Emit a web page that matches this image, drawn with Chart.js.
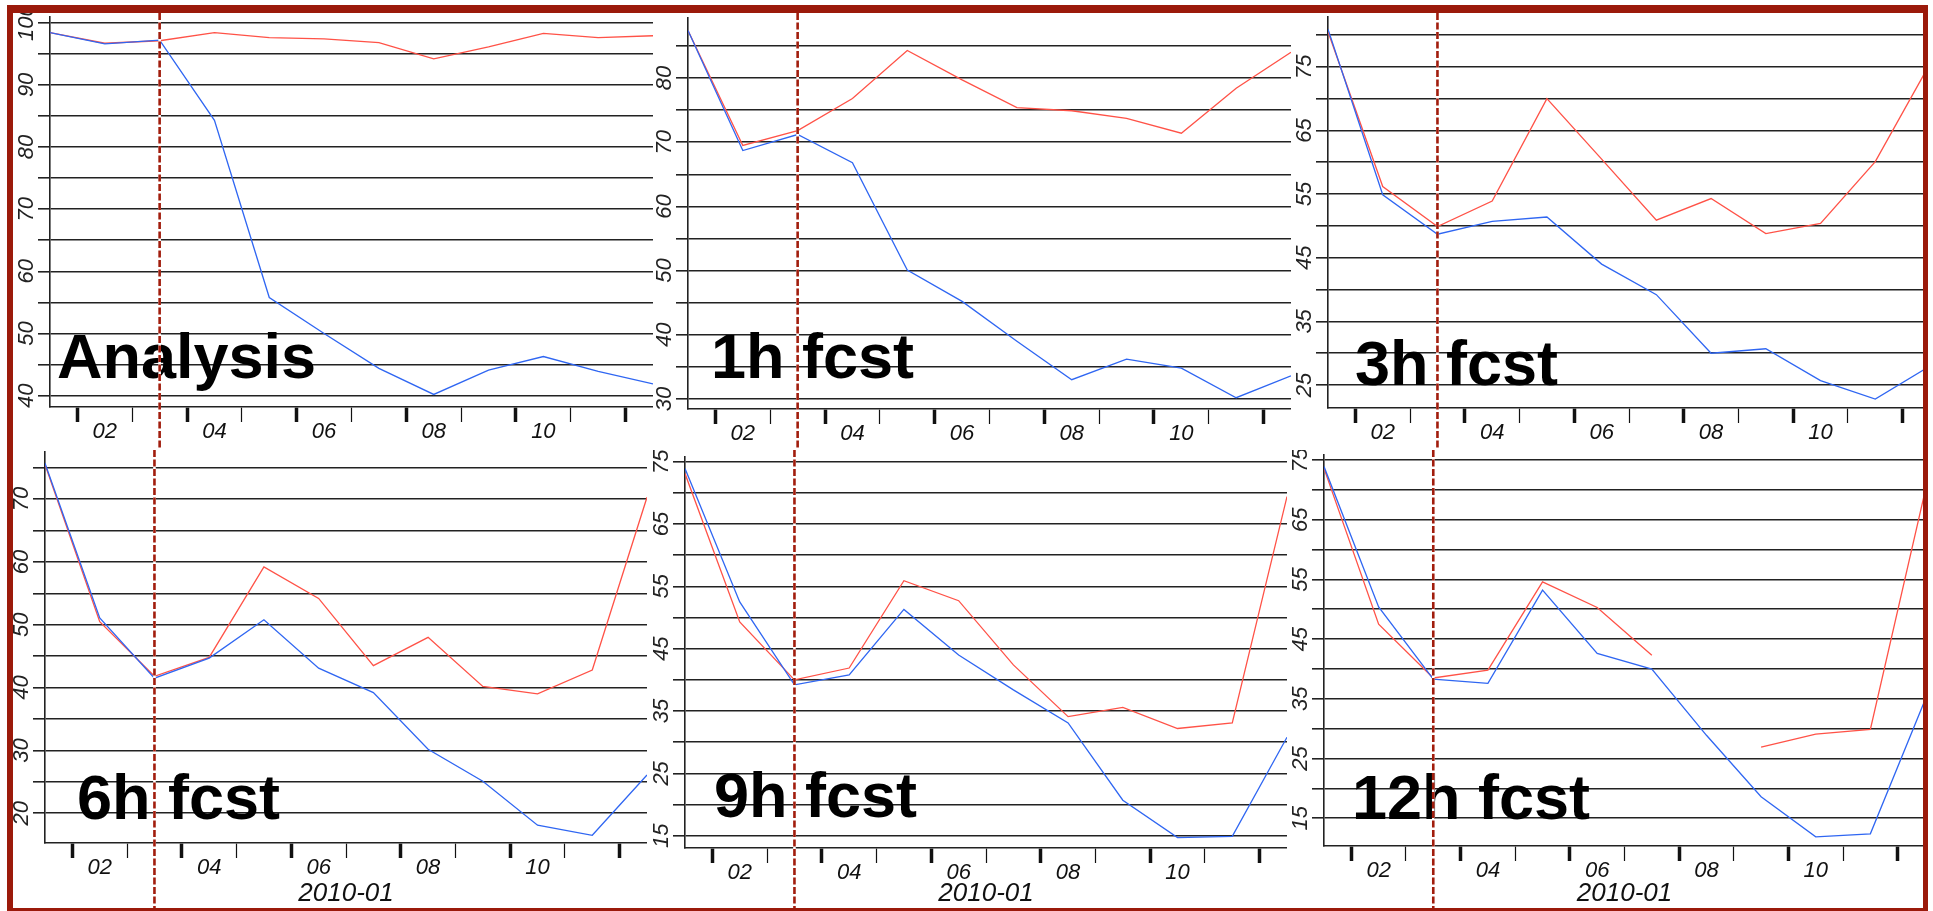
<!DOCTYPE html>
<html>
<head>
<meta charset="utf-8">
<script src="https://cdn.jsdelivr.net/npm/chart.js@4.4.1/dist/chart.umd.min.js"></script>
<style>
  html, body { margin: 0; padding: 0; background: #fff; }
  #page { position: relative; width: 1928px; height: 911px; overflow: hidden; background: #fff; }
  #page canvas { position: absolute; }
  .edge { position: absolute; background: #9b1a0b; z-index: 5; }
</style>
</head>
<body>
<div id="page">
  <div class="edge" style="left:7px;top:5px;width:1921px;height:8px"></div>
  <div class="edge" style="left:7px;top:5px;width:6px;height:906px"></div>
  <div class="edge" style="left:1923px;top:5px;width:5px;height:906px"></div>
  <div class="edge" style="left:7px;top:908px;width:1921px;height:3px"></div>
</div>
<script>
// x = days since 2010-01-01 00:00, one value per day (noon)
var days = [0.5, 1.5, 2.5, 3.5, 4.5, 5.5, 6.5, 7.5, 8.5, 9.5, 10.5, 11.5];
var dayBreaks = [1, 2, 3, 4, 5, 6, 7, 8, 9, 10, 11];
var xLabelDays = [1.5, 3.5, 5.5, 7.5, 9.5];
var xLabels = ['02', '04', '06', '08', '10'];
var xTitle = '2010-01';
var markDay = 2.5;

var titles = ['Analysis', '1h fcst', '3h fcst', '6h fcst', '9h fcst', '12h fcst'];

var analysisBlue = [98.4, 96.6, 97.2, 84.3, 55.8, 50.0, 44.4, 40.2, 44.1, 46.3, 43.9, 41.9];
var analysisRed  = [98.4, 96.7, 97.1, 98.4, 97.6, 97.4, 96.8, 94.2, 96.1, 98.3, 97.6, 97.9];
var fc1Blue = [87.4, 68.7, 71.2, 66.8, 50.1, 45.2, 39.0, 33.0, 36.2, 34.8, 30.2, 33.6];
var fc1Red  = [87.4, 69.5, 71.8, 76.8, 84.3, 79.7, 75.4, 74.9, 73.7, 71.4, 78.4, 84.0];
var fc3Blue = [80.9, 54.9, 48.7, 50.7, 51.4, 44.0, 39.2, 30.0, 30.7, 25.7, 22.8, 28.0];
var fc3Red  = [80.5, 56.2, 49.9, 53.9, 70.0, 60.5, 50.9, 54.3, 48.8, 50.4, 60.1, 75.5];
var fc6Blue = [75.7, 51.1, 41.5, 44.7, 50.8, 43.1, 39.2, 30.2, 25.1, 18.1, 16.5, 26.1];
var fc6Red  = [75.5, 50.5, 41.8, 44.8, 59.2, 54.2, 43.5, 48.0, 40.2, 39.0, 42.8, 70.3];
var fc9Blue = [73.9, 52.5, 39.2, 40.8, 51.3, 44.0, 38.4, 33.1, 20.7, 14.7, 14.9, 30.8];
var fc9Red  = [73.1, 49.3, 40.0, 41.9, 55.9, 52.7, 42.4, 34.1, 35.6, 32.2, 33.1, 69.4];
var fc12Blue = [73.9, 50.4, 38.3, 37.6, 53.2, 42.6, 40.0, 28.9, 18.6, 11.9, 12.4, 34.8];
var fc12Red  = [73.6, 47.5, 38.5, 39.8, 54.6, 50.3, 42.3, null, 26.9, 29.1, 29.9, 69.7];

var analysisGrid = [40, 45, 50, 55, 60, 65, 70, 75, 80, 85, 90, 95, 100];
var analysisTicks = [40, 50, 60, 70, 80, 90, 100];
var fc1Grid = [30, 35, 40, 45, 50, 55, 60, 65, 70, 75, 80, 85];
var fc1Ticks = [30, 40, 50, 60, 70, 80];
var fc3Grid = [25, 30, 35, 40, 45, 50, 55, 60, 65, 70, 75, 80];
var fc3Ticks = [25, 35, 45, 55, 65, 75];
var fc6Grid = [20, 25, 30, 35, 40, 45, 50, 55, 60, 65, 70, 75];
var fc6Ticks = [20, 30, 40, 50, 60, 70];
var fc9Grid = [15, 20, 25, 30, 35, 40, 45, 50, 55, 60, 65, 70, 75];
var fc9Ticks = [15, 25, 35, 45, 55, 65, 75];
var fc12Grid = [15, 20, 25, 30, 35, 40, 45, 50, 55, 60, 65, 70, 75];
var fc12Ticks = [15, 25, 35, 45, 55, 65, 75];

var BLUE = '#2f66f2';
var RED = '#ff5247';
var INK = '#222';
var FONT = '"Liberation Sans", Arial, Helvetica, sans-serif';
var YAXIS_W = 50;

Chart.defaults.font.family = FONT;

// plot boxes (page pixels)
var panels = [
  { title: titles[0], blue: analysisBlue, red: analysisRed, grid: analysisGrid, ticks: analysisTicks, yMin: 38.18, yMax: 100.92, row: 0, left: 50, right: 653, top: 17, bottom: 407, dx: 7, dy: 29 },
  { title: titles[1], blue: fc1Blue, red: fc1Red, grid: fc1Grid, ticks: fc1Ticks, yMin: 28.44, yMax: 89.35, row: 0, left: 688, right: 1291, top: 18, bottom: 409, dx: 23, dy: 31 },
  { title: titles[2], blue: fc3Blue, red: fc3Red, grid: fc3Grid, ticks: fc3Ticks, yMin: 21.39, yMax: 82.83, row: 0, left: 1328, right: 1930, top: 17, bottom: 408, dx: 27, dy: 23 },
  { title: titles[3], blue: fc6Blue, red: fc6Red, grid: fc6Grid, ticks: fc6Ticks, yMin: 15.27, yMax: 77.5, row: 1, left: 45, right: 647, top: 452, bottom: 843, dx: 32, dy: 24 },
  { title: titles[4], blue: fc9Blue, red: fc9Red, grid: fc9Grid, ticks: fc9Ticks, yMin: 13.03, yMax: 75.75, row: 1, left: 685, right: 1287, top: 457, bottom: 848, dx: 29, dy: 31 },
  { title: titles[5], blue: fc12Blue, red: fc12Red, grid: fc12Grid, ticks: fc12Ticks, yMin: 10.36, yMax: 75.84, row: 1, left: 1324, right: 1925, top: 455, bottom: 846, dx: 28, dy: 27 }
];

var xTickValues = dayBreaks.concat(xLabelDays).sort(function (a, b) { return a - b; });

var measure = document.createElement('canvas').getContext('2d');
measure.font = 'italic 22px ' + FONT;

function points(values) {
  return values.map(function (v, i) { return { x: days[i], y: v }; });
}

function makePanel(p) {
  var rowTop = p.row === 0 ? 13 : 450;
  var rowBottom = p.row === 0 ? 450 : 908;
  var canvas = document.createElement('canvas');
  canvas.width = p.right - p.left + YAXIS_W;
  canvas.height = rowBottom - rowTop;
  canvas.style.left = (p.left - YAXIS_W) + 'px';
  canvas.style.top = rowTop + 'px';
  document.getElementById('page').appendChild(canvas);

  var widest = 0;
  p.ticks.forEach(function (t) { widest = Math.max(widest, measure.measureText(String(t)).width); });

  var overlay = {
    id: 'overlay',
    afterDraw: function (chart) {
      var ctx = chart.ctx, area = chart.chartArea;
      ctx.save();
      ctx.font = 'bold 63px ' + FONT;
      ctx.fillStyle = '#000';
      ctx.textBaseline = 'alphabetic';
      ctx.fillText(p.title, area.left + p.dx, area.bottom - p.dy);
      var x = chart.scales.x.getPixelForValue(markDay);
      ctx.beginPath();
      ctx.moveTo(x, 0);
      ctx.lineTo(x, chart.height);
      ctx.lineWidth = 2.6;
      ctx.strokeStyle = '#fff';
      ctx.stroke();
      ctx.setLineDash([7, 2.5]);
      ctx.strokeStyle = '#a11d0d';
      ctx.stroke();
      ctx.restore();
    }
  };

  new Chart(canvas, {
    type: 'line',
    data: {
      datasets: [
        { label: 'blue', data: points(p.blue), borderColor: BLUE, borderWidth: 1.3, pointRadius: 0, tension: 0 },
        { label: 'red', data: points(p.red), borderColor: RED, borderWidth: 1.3, pointRadius: 0, tension: 0 }
      ]
    },
    options: {
      responsive: false,
      animation: false,
      events: [],
      layout: { padding: { top: p.top - rowTop, right: 0, bottom: 0, left: 0 } },
      plugins: { legend: { display: false }, tooltip: { enabled: false } },
      scales: {
        x: {
          type: 'linear',
          min: 0.5,
          max: 11.5,
          afterBuildTicks: function (s) { s.ticks = xTickValues.map(function (v) { return { value: v }; }); },
          afterFit: function (s) { s.height = rowBottom - p.bottom; s.paddingLeft = 0; s.paddingRight = 0; },
          border: { display: true, color: INK, width: 1.6 },
          grid: {
            drawOnChartArea: false,
            tickLength: 15,
            tickWidth: function (c) { return c.tick && c.tick.value % 2 === 1 ? 3.5 : 1.2; },
            tickColor: function (c) { return c.tick && Number.isInteger(c.tick.value) ? '#111' : 'rgba(0,0,0,0)'; }
          },
          ticks: {
            autoSkip: false,
            maxRotation: 0,
            minRotation: 0,
            padding: -3,
            color: '#111',
            font: { size: 22, style: 'italic' },
            callback: function (v) {
              var i = xLabelDays.indexOf(v);
              return i >= 0 ? xLabels[i] : '';
            }
          },
          title: {
            display: p.row === 1,
            text: xTitle,
            color: '#111',
            font: { size: 26, style: 'italic', lineHeight: 1 },
            padding: { top: 0, bottom: 1 }
          }
        },
        y: {
          min: p.yMin,
          max: p.yMax,
          afterBuildTicks: function (s) { s.ticks = p.grid.map(function (v) { return { value: v }; }); },
          afterFit: function (s) { s.width = YAXIS_W; s.paddingTop = 0; s.paddingBottom = 0; },
          border: { display: true, color: INK, width: 1.6 },
          grid: { color: INK, lineWidth: 1.6, tickLength: 12 },
          ticks: {
            autoSkip: false,
            minRotation: 90,
            maxRotation: 90,
            crossAlign: 'center',
            padding: 23.5 - 12 - widest / 2,
            color: INK,
            font: { size: 22, style: 'italic' },
            callback: function (v) { return p.ticks.indexOf(v) >= 0 ? String(v) : ''; }
          }
        }
      }
    },
    plugins: [overlay]
  });
}

panels.forEach(makePanel);
</script>
</body>
</html>
